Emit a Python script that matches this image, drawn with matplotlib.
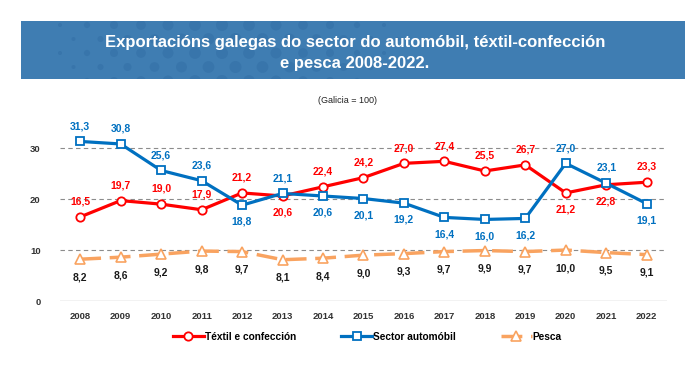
import numpy as np
import matplotlib.pyplot as plt
from matplotlib.patches import Rectangle, Circle

plt.rcParams['font.family'] = ['Liberation Sans', 'DejaVu Sans']

# Data (Galicia = 100)
years = ['2008', '2009', '2010', '2011', '2012', '2013', '2014', '2015',
         '2016', '2017', '2018', '2019', '2020', '2021', '2022']
textil = [16.5, 19.7, 19.0, 17.9, 21.2, 20.6, 22.4, 24.2, 27.0, 27.4, 25.5, 26.7, 21.2, 22.8, 23.3]
automobil = [31.3, 30.8, 25.6, 23.6, 18.8, 21.1, 20.6, 20.1, 19.2, 16.4, 16.0, 16.2, 27.0, 23.1, 19.1]
pesca = [8.2, 8.6, 9.2, 9.8, 9.7, 8.1, 8.4, 9.0, 9.3, 9.7, 9.9, 9.7, 10.0, 9.5, 9.1]

# label side: 1 above, -1 below
textil_pos = [1, 1, 1, 1, 1, -1, 1, 1, 1, 1, 1, 1, -1, -1, 1]
auto_pos = [1, 1, 1, 1, -1, 1, -1, -1, -1, -1, -1, -1, 1, 1, -1]

red = '#FF0000'
blue = '#0070C0'
orange = '#F9A360'

fig = plt.figure(figsize=(7, 3.83), dpi=100)

# title banner
banner = Rectangle((0.03, 0.794), 0.949, 0.151, transform=fig.transFigure,
                   facecolor='#3F7DB2', edgecolor='none', zorder=0)
fig.patches.append(banner)
# faint dot pattern (inches, so dots stay round)
for i in range(13):
    for j in range(5):
        cx = 0.6 + i * 0.27 + (j % 2) * 0.135
        cy = 3.83 - 0.25 - j * 0.14
        r = 0.02 + 0.04 * np.sin(np.pi * i / 12)
        dot = Circle((cx, cy), r, transform=fig.dpi_scale_trans,
                     facecolor='#3875AB', edgecolor='none', zorder=0)
        dot.set_clip_path(banner)
        fig.patches.append(dot)
fig.text(0.507, 0.890, 'Exportacións galegas do sector do automóbil, téxtil-confección',
         ha='center', va='center', color='white', fontsize=12, fontweight='bold')
fig.text(0.507, 0.835, 'e pesca 2008-2022.', ha='center', va='center',
         color='white', fontsize=12, fontweight='bold')
fig.text(0.496, 0.738, '(Galicia = 100)', ha='center', va='center', fontsize=6.5, color='#222222')

ax = fig.add_axes([0.0857, 0.214, 0.867, 0.466])
x = np.arange(len(years))

ax.plot(x, textil, color=red, lw=2.3, marker='o', ms=6, mfc='white', mec=red, mew=1.3,
        label='Téxtil e confección', zorder=3)
ax.plot(x, automobil, color=blue, lw=2.3, marker='s', ms=6, mfc='white', mec=blue, mew=1.3,
        label='Sector automóbil', zorder=3)
ax.plot(x, pesca, color=orange, lw=2.5, dashes=(6, 2.5), marker='^', ms=7.5, mfc='white',
        mec=orange, mew=1.2, label='Pesca', zorder=3)

def fmt(v):
    return f'{v:.1f}'.replace('.', ',')

for i in range(len(years)):
    ax.annotate(fmt(textil[i]), (x[i], textil[i]), xytext=(0, 11 if textil_pos[i] > 0 else -12),
                textcoords='offset points', ha='center', va='center', color=red,
                fontsize=7.5, fontweight='bold')
    ax.annotate(fmt(automobil[i]), (x[i], automobil[i]), xytext=(0, 11 if auto_pos[i] > 0 else -12),
                textcoords='offset points', ha='center', va='center', color=blue,
                fontsize=7.5, fontweight='bold')
    ax.annotate(fmt(pesca[i]), (x[i], pesca[i]), xytext=(0, -13),
                textcoords='offset points', ha='center', va='center', color='#1a1a1a',
                fontsize=7.5, fontweight='bold')

ax.set_xlim(-0.5, 14.5)
ax.set_ylim(0, 35)
ax.set_yticks([0, 10, 20, 30])
ax.set_xticks(x)
ax.set_xticklabels(years)
for yv in [10, 20, 30]:
    ax.axhline(yv, color='#8C8C8C', lw=0.8, ls=(0, (4, 3)), zorder=1)
ax.axhline(0, color='#BFBFBF', lw=1, zorder=1)
for s in ax.spines.values():
    s.set_visible(False)
ax.tick_params(length=0, labelsize=6.8, colors='#333333', pad=8)
ax.tick_params(axis='y', pad=14)
for lab in ax.get_xticklabels() + ax.get_yticklabels():
    lab.set_fontweight('bold')

fig.legend(loc='center', bbox_to_anchor=(0.525, 0.12), ncol=3, frameon=False,
           handlelength=3, handletextpad=0.1, columnspacing=4.5,
           prop={'weight': 'bold', 'size': 7.3})

fig.savefig('out.png', dpi=100)
